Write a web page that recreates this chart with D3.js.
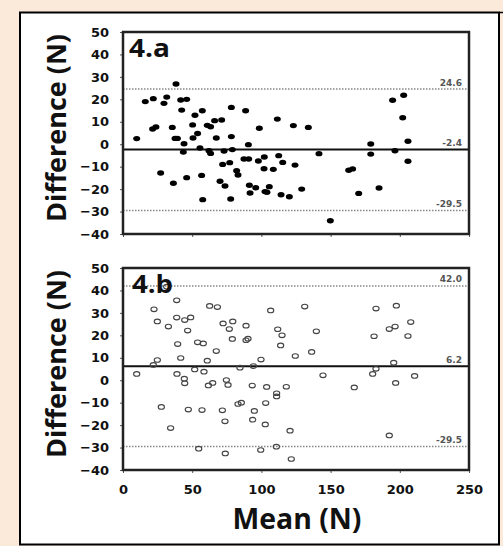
<!DOCTYPE html>
<html>
<head>
<meta charset="utf-8">
<script src="https://cdn.jsdelivr.net/npm/d3@7"></script>
<style>
  html, body { margin: 0; padding: 0; background: #fbe9da; }
  svg { display: block; }
</style>
</head>
<body>
<div id="chart"></div>
<script>
"use strict";

// == DATA ==
var xTicks = [0, 50, 100, 150, 200, 250];
var yTicks = [-40, -30, -20, -10, 0, 10, 20, 30, 40, 50];

// 4.a  mean vs difference (filled dots)
var aMean = [9.9, 16.1, 21.9, 21.4, 23.8, 27.2, 29.6, 31.6, 35.6, 36.4, 38.3, 37.6, 39.3, 41.7, 46.0,
	42.4, 44.1, 43.6, 46.0, 50.3, 52.0, 50.6, 53.9, 57.3, 55.6, 56.8, 57.6, 60.9, 63.3, 62.1, 63.3,
	66.2, 67.4, 71.3, 70.1, 73.0, 73.7, 72.0, 77.1, 78.3, 78.3, 79.0, 77.8, 82.1, 83.1, 88.6, 87.4,
	90.8, 90.6, 91.3, 91.8, 95.9, 98.5, 97.8, 102.1, 101.9, 102.6, 104.0, 105.7, 108.6, 111.5, 112.5,
	115.4, 114.2, 120.2, 123.1, 124.3, 129.1, 133.9, 141.6, 149.8, 163.1, 165.9, 170.3, 179.0, 179.0,
	185.0, 194.8, 196.5, 202.8, 202.1, 205.9, 205.9];
var aDiff = [2.5, 19.0, 20.3, 6.8, 7.7, -12.8, 18.2, 21.0, 7.5, -17.4, 26.8, 2.6, 2.6, 19.7, 20.0,
	15.2, 0.2, -3.5, -14.9, 8.6, 12.9, 2.8, 4.8, 14.9, -1.7, -13.9, -24.7, 8.4, 7.8, -2.9, -4.1,
	10.5, 2.8, 10.8, -16.5, -3.0, -18.6, -9.0, -8.2, 16.4, 3.4, -2.4, -24.4, -11.8, -13.7, 14.9, -6.6,
	-6.6, -0.2, -18.3, -21.7, -19.4, 7.1, -7.5, -5.7, -10.9, -21.1, -21.4, -18.9, -11.2, 11.2, -5.1,
	-8.1, -22.5, -23.4, 8.3, -9.3, -20.0, 7.5, -4.2, -34.1, -11.6, -11.0, -21.9, 0.1, -4.4,
	-19.5, 19.6, -2.9, 21.8, 11.8, 1.3, -7.6];
var aLines = [24.6, -2.4, -29.5]; // upper limit, mean, lower limit

// 4.b  mean vs difference (open circles)
var bMean = [9.9, 22.4, 21.9, 24.8, 24.8, 27.7, 31.6, 32.8, 34.4, 38.8, 38.8, 39.5, 39.0, 41.7, 44.6,
	48.9, 46.7, 44.3, 44.6, 47.2, 51.8, 53.9, 58.0, 58.5, 60.9, 61.7, 64.8, 57.1, 54.7, 62.6, 68.2,
	67.4, 72.3, 79.3, 76.8, 79.0, 74.7, 75.9, 71.8, 73.7, 73.9, 88.9, 90.3, 88.9, 84.5, 83.1, 85.5,
	93.4, 94.2, 94.9, 93.7, 99.7, 99.5, 103.8, 103.1, 102.8, 106.7, 111.8, 114.9, 113.9, 111.0, 111.0,
	110.8, 118.0, 120.7, 121.6, 124.5, 131.3, 136.3, 139.7, 144.5, 167.1, 180.4, 182.8, 181.4, 182.8,
	192.4, 196.6, 197.5, 195.6, 197.0, 192.4, 205.9, 207.9, 210.7];
var bDiff = [2.8, 31.6, 6.8, 26.2, 9.0, -11.9, 41.7, 23.9, -21.3, 35.6, 27.9, 16.1, 2.8, 9.9, 26.8,
	28.0, 22.1, 0.7, -1.4, -13.1, 4.8, 16.9, 16.4, 3.8, 8.7, -2.3, -1.2, -13.3, -30.5, 33.1, 32.6,
	13.0, 25.3, 26.2, 22.8, 18.4, 0.1, -2.1, -13.4, -18.3, -32.6, 24.3, 18.5, 17.8, 5.6, -10.6, -10.0,
	-2.4, 6.3, -13.7, -17.6, 9.2, -31.1, -3.0, -10.2, -19.7, 31.1, 22.7, 20.0, 15.5, -5.8, -7.2,
	-29.6, -2.9, -22.5, -35.1, 10.8, 32.8, 12.6, 21.8, 2.2, -3.2, 2.8, 5.1, 19.6, 31.9,
	22.8, 23.9, 33.2, 7.8, -1.2, -24.6, 19.7, 25.9, 1.9];
var bLines = [42.0, 6.2, -29.5];

// == BOILERPLATE ==
var W = 503, H = 546;

var svg = d3.select("#chart")
	.append("svg")
	.attr("width", W)
	.attr("height", H);

// white card with black border
svg.append("rect")
	.attr("x", 20).attr("y", 12.5)
	.attr("width", 479).attr("height", 532)
	.attr("fill", "#fff")
	.attr("stroke", "#000")
	.attr("stroke-width", 2);
svg.append("line")
	.attr("x1", 499).attr("x2", 503).attr("y1", 12.5).attr("y2", 12.5)
	.attr("stroke", "#000").attr("stroke-width", 1.5);

var tickFont = "'DejaVu Sans', sans-serif";
var titleFont = "'Open Sans', 'Noto Sans', sans-serif";

var x = d3.scaleLinear().domain([0, 250]).range([123, 469]);

var panels = [
	{ label: "4.a", mean: aMean, diff: aDiff, lines: aLines, top: 32, bottom: 234, filled: true, xLabels: false },
	{ label: "4.b", mean: bMean, diff: bDiff, lines: bLines, top: 268, bottom: 470, filled: false, xLabels: true }
];

panels.forEach(function (p) {
	var y = d3.scaleLinear().domain([-40, 50]).range([p.bottom, p.top]);
	var g = svg.append("g");

	// y axis
	var yAxis = g.append("g")
		.attr("transform", "translate(" + x(0) + ",0)")
		.call(d3.axisLeft(y).tickValues(yTicks).tickSize(3).tickSizeOuter(0).tickPadding(11));
	yAxis.select(".domain").remove();
	yAxis.selectAll("line").attr("stroke", "#555");
	yAxis.selectAll("text")
		.attr("font-family", tickFont)
		.attr("font-weight", "bold")
		.attr("font-size", 13)
		.attr("fill", "#111");

	// x axis
	var xAxis = g.append("g")
		.attr("transform", "translate(0," + p.bottom + ")")
		.call(d3.axisBottom(x).tickValues(xTicks).tickSize(3).tickSizeOuter(0).tickPadding(12)
			.tickFormat(p.xLabels ? d3.format("d") : function () { return ""; }));
	xAxis.select(".domain").remove();
	xAxis.selectAll("line").attr("stroke", "#555");
	xAxis.selectAll("text")
		.attr("font-family", tickFont)
		.attr("font-weight", "bold")
		.attr("font-size", 13)
		.attr("fill", "#111");

	// limit lines: upper, lower dotted; mean solid
	p.lines.forEach(function (v, i) {
		var isMean = i === 1;
		g.append("line")
			.attr("x1", x(0)).attr("x2", x(250))
			.attr("y1", y(v)).attr("y2", y(v))
			.attr("stroke", isMean ? "#111" : "#888")
			.attr("stroke-width", isMean ? 2 : 1.5)
			.attr("stroke-dasharray", isMean ? null : "1.5,1.5");
		g.append("text")
			.attr("x", 462)
			.attr("y", y(v) - 3.5)
			.attr("text-anchor", "end")
			.attr("font-family", tickFont)
			.attr("font-weight", "bold")
			.attr("font-size", 9)
			.attr("fill", "#555")
			.text(v.toFixed(1));
	});

	// points
	var pts = d3.zip(p.mean, p.diff);
	g.selectAll("ellipse.pt")
		.data(pts)
		.enter().append("ellipse")
		.attr("class", "pt")
		.attr("cx", function (d) { return x(d[0]); })
		.attr("cy", function (d) { return y(d[1]); })
		.attr("rx", p.filled ? 3.5 : 3.1)
		.attr("ry", p.filled ? 2.7 : 2.3)
		.attr("fill", p.filled ? "#000" : "none")
		.attr("stroke", p.filled ? "none" : "#444")
		.attr("stroke-width", 1.1);

	// frame
	g.append("rect")
		.attr("x", x(0)).attr("y", p.top)
		.attr("width", x(250) - x(0)).attr("height", p.bottom - p.top)
		.attr("fill", "none")
		.attr("stroke", "#222")
		.attr("stroke-width", 2.5);

	// panel tag
	g.append("text")
		.attr("x", p.filled ? 129 : 132)
		.attr("y", p.top + 25)
		.attr("font-family", titleFont)
		.attr("font-weight", "bold")
		.attr("font-size", 25)
		.attr("textLength", 41)
		.attr("lengthAdjust", "spacingAndGlyphs")
		.attr("fill", "#111")
		.text(p.label);

	// y title
	var cy = (p.top + p.bottom) / 2 - 5;
	g.append("text")
		.attr("transform", "translate(66," + cy + ") rotate(-90)")
		.attr("text-anchor", "middle")
		.attr("font-family", titleFont)
		.attr("font-weight", "bold")
		.attr("font-size", 26)
		.attr("textLength", 188)
		.attr("lengthAdjust", "spacingAndGlyphs")
		.attr("fill", "#111")
		.text("Difference (N)");
});

// x title
svg.append("text")
	.attr("x", 297)
	.attr("y", 529)
	.attr("text-anchor", "middle")
	.attr("font-family", titleFont)
	.attr("font-weight", "bold")
	.attr("font-size", 28)
	.attr("textLength", 129)
	.attr("lengthAdjust", "spacingAndGlyphs")
	.attr("fill", "#111")
	.text("Mean (N)");
</script>
</body>
</html>
